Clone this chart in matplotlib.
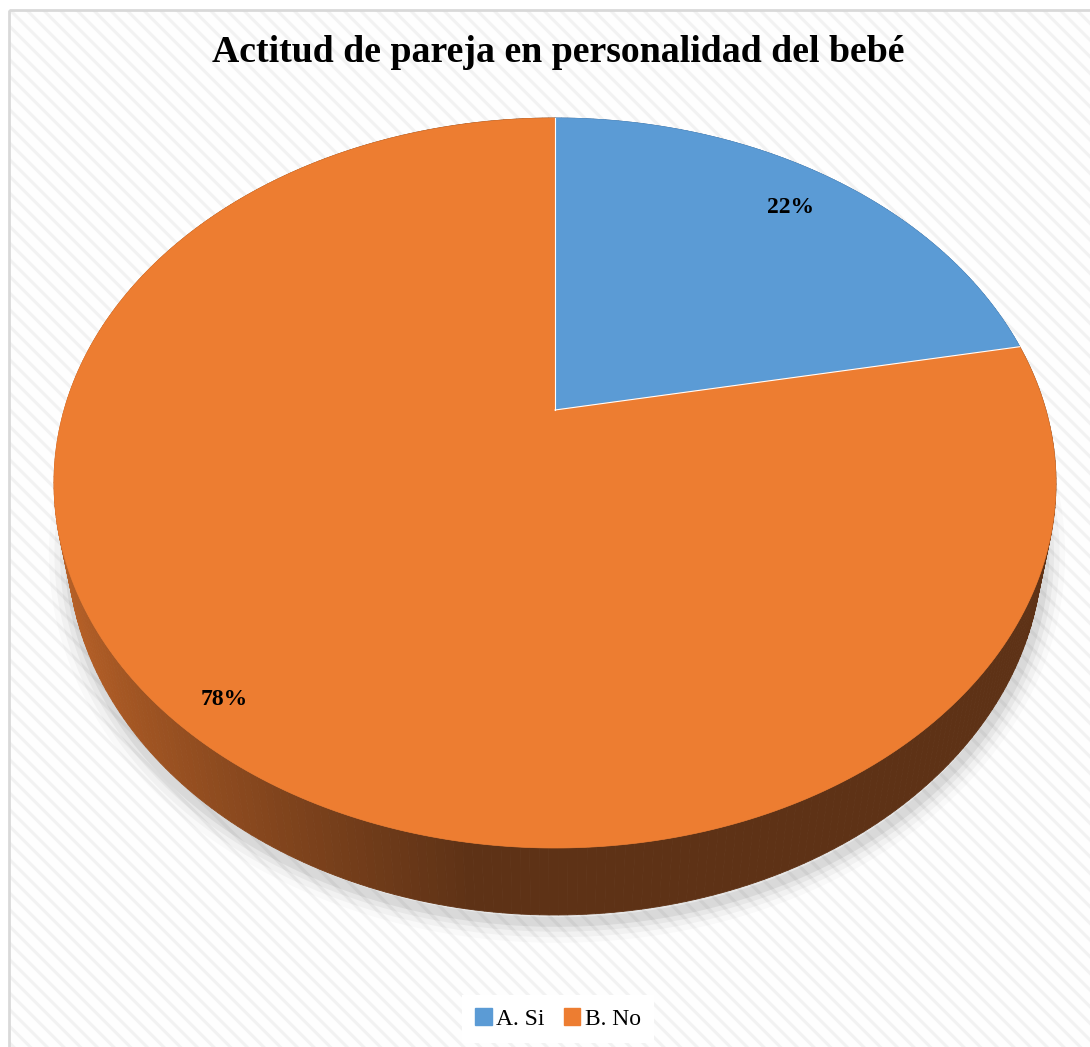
import numpy as np
import matplotlib
matplotlib.use("Agg")
import matplotlib.pyplot as plt
from matplotlib.patches import Polygon, Rectangle, Patch

# ---- data -------------------------------------------------------------
categories = ["A. Si", "B. No"]
shares = [22, 78]
slice_colors = ["#5B9BD5", "#ED7D31"]
side_dark = ["#2F5780", "#5E3216"]
side_light = ["#3F6FA0", "#BC6328"]
label_radius = [0.85, 0.91]
title = "Actitud de pareja en personalidad del bebé"

# ---- canvas (pixel coordinates, y downward) ---------------------------
W, H = 1090, 1047
plt.rcParams["hatch.linewidth"] = 2.2
fig = plt.figure(figsize=(W / 100, H / 100), dpi=100)
fig.patch.set_facecolor("white")
ax = fig.add_axes([0, 0, 1, 1])
ax.set_xlim(0, W)
ax.set_ylim(H, 0)
ax.axis("off")

# chart area: faint diagonal texture and thin border
ax.add_patch(Rectangle((9, 10), W, H, facecolor="#fefefe", edgecolor="#f2f2f2",
                       hatch="\\\\", lw=0, zorder=0))
ax.add_patch(Rectangle((9, 10), W, H, facecolor="none", edgecolor="#d9d9d9",
                       lw=2, zorder=0.5))

# ---- perspective model of a tilted disc --------------------------------
tilt = np.radians(40)
tau = np.tan(tilt)
dist = 5.0          # camera distance in disc radii (scaled by cos tilt)
thick = 0.161       # disc thickness in radii

cx, cy = 555, 410   # projected pie centre
half_w = 501        # half width of the top face
far_px = 292        # centre -> far edge in pixels

def raw(u, v, h):
    den = dist + v - h * tau
    return u / den, (tau * v + h) / den

# scale factors so the top face has the desired extent
phi = np.linspace(0, 2 * np.pi, 2000)
rx, _ = raw(np.cos(phi), np.sin(phi), 0.0)
sx = half_w / rx.max()
sy = far_px / raw(0.0, 1.0, 0.0)[1]

def project(r, theta, h=0.0):
    # theta measured clockwise from the far point of the disc
    u = r * np.sin(theta)
    v = r * np.cos(theta)
    x, y = raw(u, v, h)
    return cx + sx * x, cy - sy * y

fractions = np.array(shares, dtype=float) / np.sum(shares)
bounds = np.concatenate([[0.0], np.cumsum(fractions)]) * 2 * np.pi

# ---- soft shadow under the disc ---------------------------------------
tt = np.linspace(0, 2 * np.pi, 400)
bx, by = project(1.0, tt, -thick)
for lw, a in [(30, 0.02), (22, 0.03), (14, 0.04), (7, 0.06)]:
    ax.plot(bx + 2, by + 7, color="black", lw=lw, alpha=a, zorder=1,
            solid_joinstyle="round")

# ---- side wall (drawn far to near) ------------------------------------
def mix(c1, c2, f):
    a = np.array(matplotlib.colors.to_rgb(c1))
    b = np.array(matplotlib.colors.to_rgb(c2))
    return tuple(a + (b - a) * f)

quads = []
for i in range(len(shares)):
    th = np.linspace(bounds[i], bounds[i + 1], int(400 * fractions[i]) + 2)
    for t0, t1 in zip(th[:-1], th[1:]):
        x0, y0 = project(1.0, t0)
        x1, y1 = project(1.0, t1)
        x2, y2 = project(1.0, t1, -thick)
        x3, y3 = project(1.0, t0, -thick)
        xm = 0.5 * (x0 + x1)
        f = np.clip((xm - 55) / (470 - 55), 0, 1) ** 0.75
        col = mix(side_light[i], side_dark[i], f)
        depth = np.cos(0.5 * (t0 + t1))
        quads.append((depth, [(x0, y0), (x1, y1), (x2, y2), (x3, y3)], col))
quads.sort(key=lambda q: -q[0])
for _, pts, col in quads:
    ax.add_patch(Polygon(pts, closed=True, facecolor=col, edgecolor=col,
                         lw=0.6, zorder=2))

# ---- top face slices ---------------------------------------------------
for i in range(len(shares)):
    th = np.linspace(bounds[i], bounds[i + 1], int(600 * fractions[i]) + 2)
    xs, ys = project(1.0, th)
    pts = [(cx, cy)] + list(zip(xs, ys))
    ax.add_patch(Polygon(pts, closed=True, facecolor=slice_colors[i],
                         edgecolor=slice_colors[i], lw=0.5, zorder=3))

# separating lines between slices
for b in bounds[:-1]:
    ex, ey = project(1.0, b)
    ax.plot([cx, ex], [cy, ey], color="white", lw=0.8, zorder=4)

# ---- percentage labels -------------------------------------------------
for i in range(len(shares)):
    mid = 0.5 * (bounds[i] + bounds[i + 1])
    lx, ly = project(label_radius[i], mid)
    ax.text(lx, ly + 4 * i, f"{shares[i]}%", ha="center", va="center", fontsize=17,
            fontweight="bold", family="Liberation Serif", color="black", zorder=5)

# ---- title -------------------------------------------------------------
ax.text(558, 52, title, ha="center", va="center", fontsize=27.2,
        fontweight="bold", family="Liberation Serif", color="black", zorder=5)

# ---- legend ------------------------------------------------------------
handles = [Patch(facecolor=c, edgecolor=c) for c in slice_colors]
leg = ax.legend(handles, categories, loc="center", ncol=2,
                bbox_to_anchor=(558 / W, 1 - 1019 / H),
                bbox_transform=ax.transAxes, frameon=True, fancybox=False,
                prop={"family": "Liberation Serif", "size": 17},
                handlelength=0.7, handleheight=0.7, handletextpad=0.2,
                columnspacing=0.8, borderpad=0.55)
leg.get_frame().set_facecolor("white")
leg.get_frame().set_edgecolor("none")
leg.get_frame().set_alpha(1)

fig.savefig("out.png", dpi=100, facecolor="white")
